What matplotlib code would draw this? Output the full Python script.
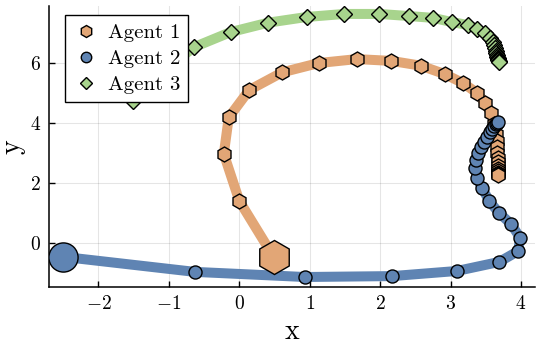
import matplotlib
matplotlib.use("Agg")
import matplotlib.pyplot as plt
from matplotlib.lines import Line2D
from matplotlib.ticker import FuncFormatter, MultipleLocator

plt.rcParams["mathtext.fontset"] = "cm"
plt.rcParams["font.family"] = ["cmr10", "DejaVu Serif"]
plt.rcParams["axes.unicode_minus"] = False

# Sampled positions of each agent; the first sample is the start position.
agent1_x = [0.49, 0.00, -0.22, -0.15, 0.14, 0.61, 1.13, 1.67, 2.16, 2.58, 2.92, 3.18,
            3.38, 3.49, 3.57, 3.62, 3.65, 3.66, 3.66, 3.66, 3.67, 3.67, 3.67, 3.67,
            3.67, 3.67, 3.67, 3.67]
agent1_y = [-0.46, 1.41, 2.97, 4.18, 5.09, 5.68, 5.99, 6.12, 6.06, 5.90, 5.62, 5.32,
            4.99, 4.66, 4.33, 3.97, 3.63, 3.40, 3.20, 3.00, 2.83, 2.70, 2.57, 2.47,
            2.40, 2.34, 2.30, 2.27]

agent2_x = [-2.50, -0.63, 0.93, 2.17, 3.09, 3.69, 3.96, 3.99, 3.86, 3.69, 3.55, 3.45,
            3.37, 3.35, 3.36, 3.39, 3.43, 3.47, 3.52, 3.56, 3.59, 3.62, 3.65, 3.66, 3.67]
agent2_y = [-0.45, -0.95, -1.12, -1.09, -0.92, -0.62, -0.26, 0.18, 0.64, 1.01, 1.40, 1.84,
            2.17, 2.50, 2.77, 3.00, 3.20, 3.37, 3.53, 3.70, 3.80, 3.90, 3.96, 4.00, 4.03]

agent3_x = [-1.51, -0.64, -0.12, 0.41, 0.96, 1.49, 1.99, 2.41, 2.75, 3.02, 3.25, 3.38,
            3.49, 3.56, 3.60, 3.62, 3.63, 3.65, 3.65, 3.66, 3.66, 3.67, 3.67, 3.68,
            3.69, 3.69]
agent3_y = [4.95, 6.52, 7.02, 7.33, 7.52, 7.62, 7.62, 7.55, 7.49, 7.35, 7.25, 7.12,
            6.98, 6.81, 6.68, 6.59, 6.49, 6.39, 6.32, 6.25, 6.19, 6.15, 6.12, 6.09,
            6.06, 6.02]

labels = ["Agent 1", "Agent 2", "Agent 3"]
colors = ["#E2A676", "#5F84B3", "#A8D48D"]
markers = ["h", "o", "D"]
marker_sizes = [10.8, 9.4, 7.8]
start_sizes = [24.5, 21.0, 15.5]

agents = [(agent1_x, agent1_y), (agent2_x, agent2_y), (agent3_x, agent3_y)]

fig = plt.figure(figsize=(5.42, 3.46), dpi=100)
ax = fig.add_axes([49 / 542, 1 - 287 / 346, (535 - 49) / 542, (287 - 5.7) / 346])

for (xs, ys), c, m, ms, s0 in zip(agents, colors, markers, marker_sizes, start_sizes):
    ax.plot(xs, ys, color=c, lw=7.2, solid_joinstyle="round", solid_capstyle="round",
            zorder=2)
    ax.plot(xs[1:], ys[1:], ls="none", marker=m, ms=ms, mfc=c, mec="black", mew=1.0,
            zorder=3)
    ax.plot(xs[:1], ys[:1], ls="none", marker=m, ms=s0, mfc=c, mec="black", mew=1.0,
            zorder=3)

ax.set_xlim(-2.703, 4.200)
ax.set_ylim(-1.452, 7.894)
ax.xaxis.set_major_locator(MultipleLocator(1))
ax.yaxis.set_major_locator(MultipleLocator(2))
fmt = FuncFormatter(lambda v, p: "$%d$" % round(v))
ax.xaxis.set_major_formatter(fmt)
ax.yaxis.set_major_formatter(fmt)
ax.tick_params(direction="in", length=4, width=1.0, labelsize=14, pad=6)
ax.grid(True, color="black", alpha=0.1, lw=0.8)
ax.set_axisbelow(True)
for side in ["top", "right"]:
    ax.spines[side].set_visible(False)
for side in ["left", "bottom"]:
    ax.spines[side].set_linewidth(1.1)

ax.set_xlabel("x", fontsize=20, labelpad=4)
ax.set_ylabel("y", fontsize=20, labelpad=3)

handles = [Line2D([], [], ls="none", marker=m, ms=ms * 0.8, mfc=c, mec="black", mew=1.0)
           for m, c, ms in zip(markers, colors, marker_sizes)]
leg = ax.legend(handles, labels, loc="upper left",
                bbox_to_anchor=(65 / 542, 1 - 15 / 346), bbox_transform=fig.transFigure,
                borderaxespad=0, fontsize=15, frameon=True, fancybox=False,
                edgecolor="black", framealpha=1, handlelength=1.2, handletextpad=0.45,
                labelspacing=0.36, borderpad=0.4)
leg.get_frame().set_linewidth(1.0)
leg.set_zorder(5)

fig.savefig("out.png", dpi=100)
